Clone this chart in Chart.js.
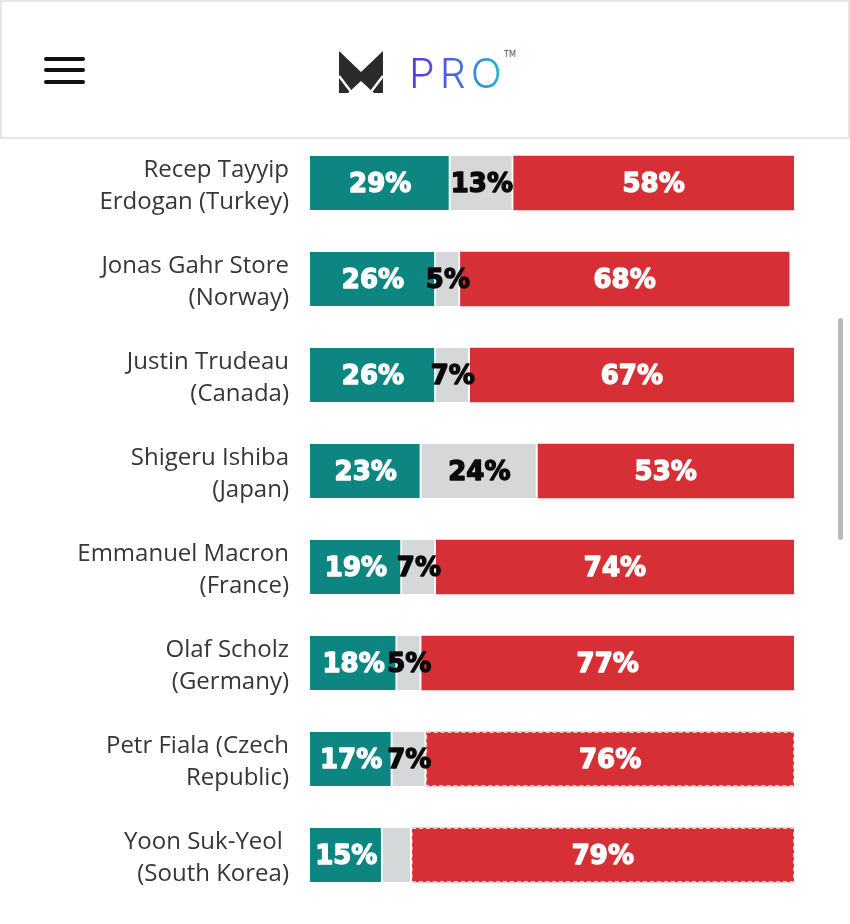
<!DOCTYPE html>
<html>
<head>
<meta charset="utf-8">
<script src="https://cdn.jsdelivr.net/npm/chart.js@4/dist/chart.umd.min.js"></script>
<style>
  html, body { margin: 0; padding: 0; background: #fff; width: 850px; height: 924px; overflow: hidden; }
  #wrap { position: absolute; left: 0; top: 0; width: 850px; height: 924px; }
  #header { position: absolute; left: 0; top: 0; width: 850px; height: 139px; box-sizing: border-box;
            border: 2px solid #e6e6e6; background: #fff; z-index: 5; }
  .bar { position: absolute; left: 42px; width: 41px; height: 4px; background: #111; border-radius: 2px; }
  #logo { position: absolute; left: 337px; top: 49px; }
  #pro { position: absolute; left: 407px; top: 42px; font-family: Inter, "Open Sans", sans-serif; font-weight: 300;
         font-size: 41px; letter-spacing: 5px; line-height: 58px;
         background: linear-gradient(90deg, #5a36e6 0%, #4b63e2 45%, #19c6c8 100%);
         -webkit-background-clip: text; background-clip: text; color: transparent; }
  #tm { position: absolute; left: 502px; top: 48px; font-family: "DejaVu Sans", sans-serif; font-size: 8px; color: #555; }
  #scroll { position: absolute; left: 838px; top: 318px; width: 5px; height: 222px; background: #b9b9b9; border-radius: 3px; z-index: 6; }
</style>
</head>
<body>
<div id="wrap"><canvas id="c" width="850" height="924"></canvas></div>
<div id="header">
  <div class="bar" style="top:55px"></div>
  <div class="bar" style="top:66px"></div>
  <div class="bar" style="top:78px"></div>
  <svg id="logo" width="44" height="42" viewBox="0 0 44 42">
    <polygon points="0,0 22,21 44,0 44,42 35,42 22,30 9,42 0,42" fill="#2b2b2b"/>
    <polyline points="0,25 13,42" stroke="#fff" stroke-width="2.5" fill="none"/>
    <polyline points="44,25 31,42" stroke="#fff" stroke-width="2.5" fill="none"/>
  </svg>
  <div id="pro">PRO</div>
  <div id="tm">TM</div>
</div>
<div id="scroll"></div>
<script>
const leaders = [
  ["Recep Tayyip", "Erdogan (Turkey)"],
  ["Jonas Gahr Store", "(Norway)"],
  ["Justin Trudeau", "(Canada)"],
  ["Shigeru Ishiba", "(Japan)"],
  ["Emmanuel Macron", "(France)"],
  ["Olaf Scholz", "(Germany)"],
  ["Petr Fiala (Czech", "Republic)"],
  ["Yoon Suk-Yeol ", "(South Korea)"]
];
const approve    = [29, 26, 26, 23, 19, 18, 17, 15];
const unsure     = [13, 5, 7, 24, 7, 5, 7, 6];
const disapprove = [58, 68, 67, 53, 74, 77, 76, 79];
const showUnsureLabel = [true, true, true, true, true, true, true, false];

const labelFont = 'bold 26px "DejaVu Sans", sans-serif';

const valueLabels = {
  id: 'valueLabels',
  afterDatasetsDraw(chart) {
    const ctx = chart.ctx;
    ctx.save();
    const redMeta = chart.getDatasetMeta(2);
    redMeta.data.forEach((el, i) => {
      if (i >= 6) {
        const h = el.height;
        ctx.setLineDash([4, 3]);
        ctx.strokeStyle = 'rgba(255,255,255,0.75)';
        ctx.lineWidth = 1;
        ctx.strokeRect(el.base + 0.5, el.y - h / 2 + 0.5, el.x - el.base - 1, h - 1);
        ctx.setLineDash([]);
      }
    });
    ctx.font = labelFont;
    ctx.textAlign = 'center';
    ctx.textBaseline = 'middle';
    ctx.lineJoin = 'round';
    ctx.lineWidth = 1.4;
    chart.data.datasets.forEach((ds, di) => {
      const meta = chart.getDatasetMeta(di);
      meta.data.forEach((el, i) => {
        if (di === 1 && !showUnsureLabel[i]) return;
        const cx = (el.x + el.base) / 2;
        const col = di === 1 ? '#0a0a0a' : '#ffffff';
        ctx.fillStyle = col;
        ctx.strokeStyle = col;
        ctx.fillText(ds.data[i] + '%', cx, el.y + 2);
        ctx.strokeText(ds.data[i] + '%', cx, el.y + 2);
      });
    });
    ctx.restore();
  }
};

new Chart(document.getElementById('c'), {
  type: 'bar',
  data: {
    labels: leaders,
    datasets: [
      { label: 'Approve', data: approve, backgroundColor: '#0d8682',
        borderColor: '#ffffff', borderWidth: { right: 2 }, borderSkipped: false },
      { label: 'Unsure', data: unsure, backgroundColor: '#d6d7d9',
        borderColor: '#ffffff', borderWidth: { right: 2 }, borderSkipped: false },
      { label: 'Disapprove', data: disapprove, backgroundColor: '#d62f35', borderWidth: 0 }
    ]
  },
  options: {
    indexAxis: 'y',
    responsive: false,
    animation: false,
    events: [],
    barThickness: 54,
    layout: { padding: { top: 135, bottom: 21, right: 56, left: 0 } },
    plugins: { legend: { display: false }, tooltip: { enabled: false } },
    scales: {
      x: { stacked: true, min: 0, max: 100, display: false },
      y: {
        stacked: true,
        grid: { display: false, drawTicks: false },
        border: { display: false },
        afterFit(scale) { scale.width = 310; scale.paddingTop = 0; scale.paddingBottom = 0; },
        ticks: {
          padding: 21,
          labelOffset: 3,
          color: '#363636',
          font: { family: '"Open Sans", Lato, sans-serif', size: 24, lineHeight: 1.34 }
        }
      }
    }
  },
  plugins: [valueLabels]
});
</script>
</body>
</html>
